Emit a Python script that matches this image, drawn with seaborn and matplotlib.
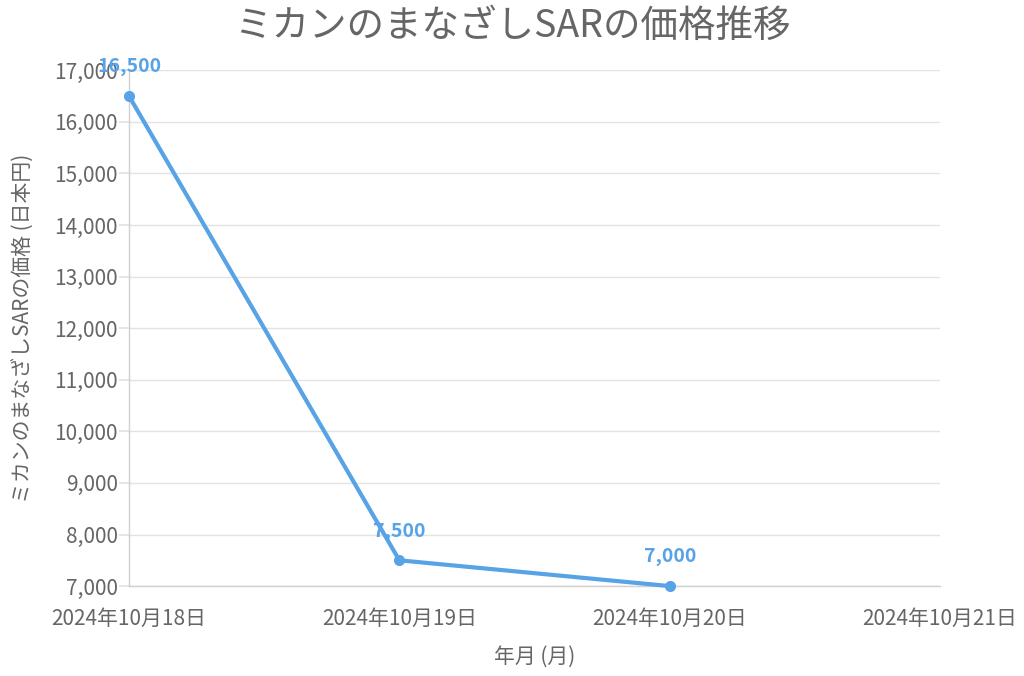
import matplotlib
matplotlib.use("Agg")
import matplotlib.pyplot as plt
import seaborn as sns
import pandas as pd

# データ
dates = ["2024年10月18日", "2024年10月19日", "2024年10月20日", "2024年10月21日"]
prices = [16500, 7500, 7000]
y_ticks = [7000, 8000, 9000, 10000, 11000, 12000, 13000, 14000, 15000, 16000, 17000]

TITLE = "ミカンのまなざしSARの価格推移"
X_LABEL = "年月 (月)"
Y_LABEL = "ミカンのまなざしSARの価格 (日本円)"

LINE_COLOR = "#58A3E6"
TEXT_COLOR = "#666666"
GRID_COLOR = "#E3E3E3"

sns.set_theme(style="white")
plt.rcParams["font.family"] = ["Noto Sans CJK JP", "DejaVu Sans"]

df = pd.DataFrame({"pos": range(len(prices)), "price": prices})

fig = plt.figure(figsize=(10.24, 6.76), dpi=100)
ax = fig.add_axes([0.126, 0.133, 0.792, 0.763])

sns.lineplot(data=df, x="pos", y="price", ax=ax, color=LINE_COLOR,
             linewidth=3, marker="o", markersize=8, markeredgewidth=0,
             clip_on=False, zorder=5)

# 値ラベル（参照画像と同じく16,500は目盛りと重なる）
for _, row in df.iterrows():
    ax.annotate(f"{int(row['price']):,}", (row["pos"], row["price"]),
                xytext=(0, 21), textcoords="offset points", ha="center",
                va="center", color=LINE_COLOR, fontsize=14, fontweight="bold",
                zorder=6)

ax.set_xlim(0, len(dates) - 1)
ax.set_ylim(7000, 17000)
ax.set_xticks(range(len(dates)))
ax.set_xticklabels(dates)
ax.set_yticks(y_ticks)
ax.set_yticklabels([f"{v:,}" for v in y_ticks])

ax.grid(axis="y", color=GRID_COLOR, linewidth=1)
ax.grid(axis="x", visible=False)
for side in ["top", "right"]:
    ax.spines[side].set_visible(False)
for side in ["left", "bottom"]:
    ax.spines[side].set_color("#D0D0D0")
    ax.spines[side].set_linewidth(1)

ax.tick_params(axis="y", length=7, color=GRID_COLOR, labelsize=15,
               labelcolor=TEXT_COLOR, pad=1, left=True)
ax.tick_params(axis="x", length=0, labelsize=15, labelcolor=TEXT_COLOR, pad=16)

ax.set_xlabel(X_LABEL, fontsize=15, color=TEXT_COLOR, labelpad=11)
ax.set_ylabel(Y_LABEL, fontsize=15, color=TEXT_COLOR, labelpad=14)
fig.suptitle(TITLE, fontsize=27, color=TEXT_COLOR, y=0.99)

fig.savefig("out.png", dpi=100)
